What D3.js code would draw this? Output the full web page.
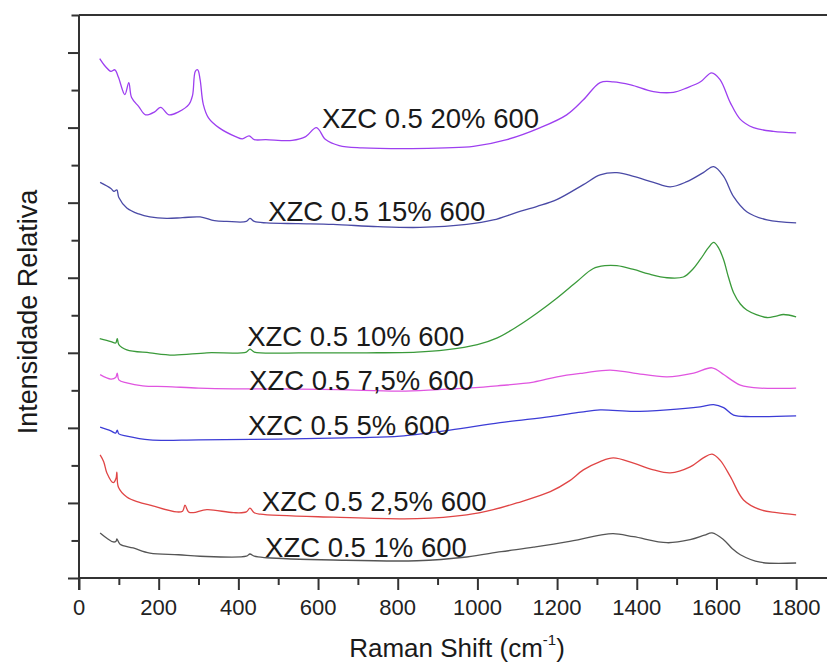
<!DOCTYPE html>
<html><head><meta charset="utf-8">
<script src="https://cdn.jsdelivr.net/npm/d3@7"></script>
<style>
html,body{margin:0;padding:0;background:#fff;}
svg{display:block;font-family:"Liberation Sans",Arial,Helvetica,sans-serif;}
</style></head>
<body>
<svg id="chart" width="827" height="666"></svg>
<script>
// ---- data (Raman shift cm^-1, relative intensity a.u.) ----
const s20 = [[52,6.92],[67,6.81],[80,6.75],[90,6.77],[99,6.67],[115,6.44],[125,6.60],[132,6.40],[150,6.28],[167,6.17],[190,6.21],[205,6.27],[226,6.17],[250,6.21],[276,6.31],[285,6.43],[292,6.75],[298,6.77],[304,6.64],[312,6.31],[325,6.13],[351,6.00],[393,5.88],[410,5.85],[427,5.89],[440,5.84],[469,5.84],[535,5.83],[569,5.88],[596,6.00],[619,5.84],[653,5.76],[711,5.73],[836,5.72],[920,5.73],[990,5.75],[1074,5.84],[1158,6.00],[1224,6.17],[1266,6.37],[1308,6.60],[1341,6.61],[1385,6.57],[1442,6.48],[1492,6.47],[1526,6.53],[1560,6.61],[1588,6.73],[1609,6.64],[1635,6.33],[1660,6.11],[1693,6.00],[1743,5.95],[1800,5.93]];
const s15 = [[53,5.27],[80,5.19],[88,5.15],[95,5.17],[100,5.07],[120,4.93],[150,4.85],[178,4.81],[220,4.79],[260,4.80],[304,4.81],[340,4.76],[371,4.75],[420,4.75],[429,4.79],[440,4.75],[471,4.73],[550,4.72],[638,4.71],[750,4.68],[856,4.67],[973,4.71],[1040,4.77],[1099,4.87],[1150,4.95],[1199,5.04],[1266,5.24],[1308,5.37],[1350,5.40],[1392,5.35],[1442,5.27],[1484,5.21],[1526,5.28],[1567,5.40],[1593,5.48],[1618,5.35],[1643,5.08],[1676,4.88],[1727,4.77],[1800,4.73]];
const s10 = [[52,3.19],[80,3.15],[92,3.13],[96,3.19],[100,3.11],[120,3.04],[178,3.00],[237,2.97],[321,3.00],[420,3.01],[429,3.05],[440,3.01],[555,3.00],[722,3.00],[848,3.01],[920,3.04],[1000,3.11],[1050,3.20],[1100,3.35],[1150,3.53],[1200,3.73],[1250,3.95],[1290,4.12],[1320,4.16],[1350,4.16],[1392,4.11],[1430,4.05],[1476,4.00],[1517,4.01],[1540,4.11],[1559,4.24],[1580,4.40],[1593,4.47],[1605,4.40],[1618,4.24],[1630,4.01],[1643,3.80],[1660,3.65],[1676,3.57],[1700,3.51],[1727,3.47],[1750,3.49],[1768,3.51],[1800,3.48]];
const s75 = [[53,2.71],[80,2.65],[92,2.67],[96,2.73],[100,2.64],[120,2.60],[160,2.56],[220,2.55],[300,2.53],[388,2.52],[500,2.52],[650,2.51],[806,2.49],[900,2.51],[973,2.53],[1050,2.56],[1141,2.61],[1200,2.68],[1266,2.73],[1333,2.77],[1392,2.73],[1476,2.68],[1543,2.73],[1589,2.80],[1618,2.71],[1640,2.63],[1660,2.57],[1710,2.53],[1800,2.53]];
const s5 = [[53,2.01],[80,1.96],[92,1.93],[96,1.97],[100,1.92],[120,1.89],[178,1.84],[300,1.84],[500,1.85],[700,1.87],[806,1.89],[931,1.97],[1057,2.07],[1183,2.15],[1260,2.21],[1308,2.24],[1392,2.22],[1476,2.24],[1559,2.28],[1593,2.31],[1618,2.27],[1643,2.17],[1685,2.15],[1800,2.16]];
const s25 = [[53,1.64],[62,1.55],[70,1.40],[86,1.27],[93,1.33],[95,1.41],[99,1.21],[120,1.08],[150,1.01],[178,0.97],[245,0.88],[260,0.89],[266,0.97],[275,0.88],[287,0.87],[321,0.91],[388,0.87],[420,0.88],[429,0.93],[440,0.87],[455,0.85],[639,0.81],[848,0.79],[973,0.84],[1040,0.91],[1099,1.00],[1183,1.15],[1230,1.29],[1266,1.44],[1308,1.55],[1341,1.60],[1392,1.53],[1442,1.44],[1484,1.40],[1534,1.48],[1567,1.60],[1589,1.65],[1609,1.57],[1635,1.35],[1668,1.04],[1710,0.91],[1751,0.87],[1800,0.84]];
const s1 = [[53,0.60],[70,0.53],[86,0.48],[93,0.49],[95,0.52],[103,0.45],[136,0.40],[178,0.33],[250,0.31],[304,0.29],[420,0.29],[429,0.32],[440,0.29],[471,0.27],[639,0.24],[848,0.23],[973,0.28],[1060,0.35],[1141,0.41],[1224,0.48],[1308,0.57],[1341,0.59],[1392,0.55],[1476,0.47],[1534,0.51],[1570,0.57],[1589,0.60],[1618,0.51],[1640,0.39],[1660,0.31],[1710,0.21],[1800,0.20]];

const seriesNames = ["XZC 0.5 20% 600","XZC 0.5 15% 600","XZC 0.5 10% 600","XZC 0.5 7,5% 600","XZC 0.5 5% 600","XZC 0.5 2,5% 600","XZC 0.5 1% 600"];
const seriesData = [s20, s15, s10, s75, s5, s25, s1];
const seriesColors = ["#9d3ff0","#4a4aa6","#3a9a3a","#e055e0","#3c3cd6","#e04545","#555555"];
const labelPos = [[610,5.99],[475,4.76],[422,3.09],[427,2.51],[424,1.91],[459,0.89],[467,0.28]];
const xTickLabels = [0,200,400,600,800,1000,1200,1400,1600,1800];

// ---- layout ----
const svg = d3.select("#chart");
const x = d3.scaleLinear().domain([0,1880]).range([79,828]);
const y = d3.scaleLinear().domain([0,7.5]).range([578,15]);
const ink = "#333";

// top frame line
svg.append("line").attr("x1",x(0)).attr("x2",x(1880)).attr("y1",y(7.5)).attr("y2",y(7.5))
  .attr("stroke",ink).attr("stroke-width",2);

// curves
const line = d3.line().x(d=>x(d[0])).y(d=>y(d[1])).curve(d3.curveCatmullRom.alpha(0.5));
seriesData.forEach((s,i)=>{
  svg.append("path").datum(s).attr("d",line).attr("fill","none")
    .attr("stroke",seriesColors[i]).attr("stroke-width",1.3).attr("stroke-linejoin","round");
});

// x axis
const xMinor = d3.range(0,1801,100);
const xAx = svg.append("g").attr("transform",`translate(0,${y(0)})`)
  .call(d3.axisBottom(x).tickValues(xMinor).tickSize(7).tickFormat(""));
xAx.selectAll(".tick line").attr("y2",d=>d%200===0?12:7).attr("stroke",ink).attr("stroke-width",2);
xAx.select(".domain").attr("stroke",ink).attr("stroke-width",2).attr("d",`M${x(0)},0H${x(1880)}`);
svg.append("g").selectAll("text").data(xTickLabels).join("text")
  .attr("x",d=>x(d)).attr("y",615).attr("text-anchor","middle")
  .attr("font-size",22).attr("fill","#222").text(d=>d);

// y axis
const yTicks = d3.range(0,7.51,0.5);
const yAx = svg.append("g").attr("transform",`translate(${x(0)},0)`)
  .call(d3.axisLeft(y).tickValues(yTicks).tickSize(7).tickFormat(""));
yAx.selectAll(".tick line").attr("x2",d=>Math.abs(d-Math.round(d))<1e-6?-11:-7.5).attr("stroke",ink).attr("stroke-width",2);
yAx.select(".domain").attr("stroke",ink).attr("stroke-width",2).attr("d",`M0,${y(7.5)}V${y(0)+12}`);

// series labels
svg.append("g").selectAll("text").data(seriesNames).join("text")
  .attr("x",(d,i)=>x(labelPos[i][0])).attr("y",(d,i)=>y(labelPos[i][1]))
  .attr("font-size",27.5).attr("fill","#1a1a1a").text(d=>d);

// axis titles
const xt = svg.append("text").attr("x",457).attr("y",657).attr("text-anchor","middle")
  .attr("font-size",26).attr("fill","#1a1a1a");
xt.append("tspan").text("Raman Shift (cm");
xt.append("tspan").attr("font-size",15).attr("dy",-12).text("-1");
xt.append("tspan").attr("dy",12).text(")");

svg.append("text").attr("transform","translate(37,312) rotate(-90)")
  .attr("text-anchor","middle").attr("font-size",27).attr("fill","#1a1a1a")
  .text("Intensidade Relativa");
</script>
</body></html>
